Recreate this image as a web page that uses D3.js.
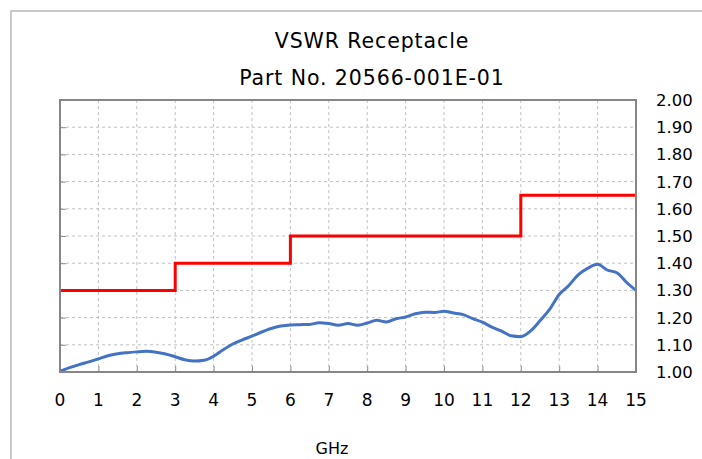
<!DOCTYPE html>
<html>
<head>
<meta charset="utf-8">
<script src="https://cdn.jsdelivr.net/npm/d3@7"></script>
<style>
  body { margin: 0; background: #fff; }
  text { font-family: "DejaVu Sans", Verdana, sans-serif; fill: #000; }
</style>
</head>
<body>
<div id="chart"></div>
<script>
// measured VSWR, frequency in GHz
const freqs = [0, 0.25, 0.5, 0.75, 1, 1.25, 1.5, 1.75, 2, 2.25, 2.5, 2.75, 3, 3.25, 3.5, 3.75,
    4, 4.25, 4.5, 4.75, 5, 5.25, 5.5, 5.75, 6, 6.25, 6.5, 6.75, 7, 7.25, 7.5, 7.75,
    8, 8.25, 8.5, 8.75, 9, 9.25, 9.5, 9.75, 10, 10.25, 10.5, 10.75, 11, 11.25, 11.5, 11.75,
    12, 12.25, 12.5, 12.75, 13, 13.25, 13.5, 13.75, 14, 14.25, 14.5, 14.75, 15];
const vswr = [1.003, 1.016, 1.027, 1.037, 1.048, 1.060, 1.067, 1.071, 1.074, 1.076, 1.073, 1.066, 1.056, 1.045, 1.040, 1.043,
    1.058, 1.082, 1.103, 1.118, 1.132, 1.147, 1.160, 1.169, 1.173, 1.174, 1.175, 1.181, 1.178, 1.172, 1.178, 1.172,
    1.180, 1.190, 1.184, 1.196, 1.202, 1.214, 1.220, 1.219, 1.223, 1.217, 1.211, 1.196, 1.183, 1.165, 1.150, 1.133,
    1.130, 1.150, 1.188, 1.230, 1.285, 1.318, 1.358, 1.382, 1.396, 1.375, 1.365, 1.330, 1.300];

// spec limit (step line)
const limitFreqs = [0, 3, 3, 6, 6, 12, 12, 15];
const limitVals = [1.30, 1.30, 1.40, 1.40, 1.50, 1.50, 1.65, 1.65];

const xTicks = d3.range(0, 16, 1);
const yTicks = d3.range(0, 11).map(i => 1 + i * 0.1);
const titleLines = ["VSWR Receptacle", "Part No. 20566-001E-01"];

let W = 702, H = 459;
let margin = {top: 100, left: 60, right: 66, bottom: 87};
let width = W - margin.left - margin.right,
    height = H - margin.top - margin.bottom;

let svg = d3.select("#chart").append("svg")
    .attr("width", W)
    .attr("height", H);

svg.append("rect").attr("width", W).attr("height", H).attr("fill", "#fff");

// outer chart frame (runs off the picture)
svg.append("rect")
    .attr("x", 11).attr("y", 11)
    .attr("width", 800).attr("height", 800)
    .attr("fill", "none")
    .attr("stroke", "#b8b8b8")
    .attr("stroke-width", 1.5);

let x = d3.scaleLinear().domain([0, 15]).range([0, width]);
let y = d3.scaleLinear().domain([1, 2]).range([height, 0]);

let g = svg.append("g")
    .attr("transform", "translate(" + margin.left + "," + margin.top + ")");

// grid
g.append("g")
    .selectAll("line.vg")
    .data(xTicks.slice(1, -1))
    .enter().append("line")
    .attr("x1", d => x(d)).attr("x2", d => x(d))
    .attr("y1", 0).attr("y2", height)
    .attr("stroke", "#c0c0c0")
    .attr("stroke-dasharray", "3,3");

g.append("g")
    .selectAll("line.hg")
    .data(yTicks.slice(1, -1))
    .enter().append("line")
    .attr("x1", 0).attr("x2", width)
    .attr("y1", d => y(d)).attr("y2", d => y(d))
    .attr("stroke", "#c0c0c0")
    .attr("stroke-dasharray", "3,3");

// inner ticks
let xAxis = d3.axisTop(x).tickValues(xTicks).tickSize(6).tickFormat("");
g.append("g")
    .attr("transform", "translate(0," + height + ")")
    .call(xAxis)
    .call(a => a.select(".domain").remove())
    .selectAll("line").attr("stroke", "#8c8c8c");

let yAxis = d3.axisRight(y).tickValues(yTicks).tickSize(6).tickFormat("");
g.append("g")
    .call(yAxis)
    .call(a => a.select(".domain").remove())
    .selectAll("line").attr("stroke", "#8c8c8c");

// tick labels
g.append("g")
    .selectAll("text")
    .data(xTicks)
    .enter().append("text")
    .attr("x", d => x(d))
    .attr("y", height + 34)
    .attr("text-anchor", "middle")
    .style("font-size", "17px")
    .text(d => d);

g.append("g")
    .selectAll("text")
    .data(yTicks)
    .enter().append("text")
    .attr("x", width + 20)
    .attr("y", d => y(d) + 6)
    .style("font-size", "16.5px")
    .text(d => d.toFixed(2));

// lines
let limitLine = d3.line()
    .x((d, i) => x(limitFreqs[i]))
    .y(d => y(d));

g.append("path")
    .datum(limitVals)
    .attr("d", limitLine)
    .attr("fill", "none")
    .attr("stroke", "#ff0000")
    .attr("stroke-width", 3);

let vswrLine = d3.line()
    .x((d, i) => x(freqs[i]))
    .y(d => y(d))
    .curve(d3.curveMonotoneX);

g.append("path")
    .datum(vswr)
    .attr("d", vswrLine)
    .attr("fill", "none")
    .attr("stroke", "#4472c4")
    .attr("stroke-width", 3)
    .attr("stroke-linejoin", "round");

// plot frame
g.append("rect")
    .attr("width", width).attr("height", height)
    .attr("fill", "none")
    .attr("stroke", "#868686")
    .attr("stroke-width", 2);

// titles
svg.selectAll("text.title")
    .data(titleLines)
    .enter().append("text")
    .attr("class", "title")
    .attr("x", 372)
    .attr("y", (d, i) => 48 + i * 37)
    .attr("text-anchor", "middle")
    .style("font-size", "20.5px")
    .style("letter-spacing", "0.9px")
    .text(d => d);

svg.append("text")
    .attr("x", 332)
    .attr("y", 454)
    .attr("text-anchor", "middle")
    .style("font-size", "16px")
    .text("GHz");
</script>
</body>
</html>
